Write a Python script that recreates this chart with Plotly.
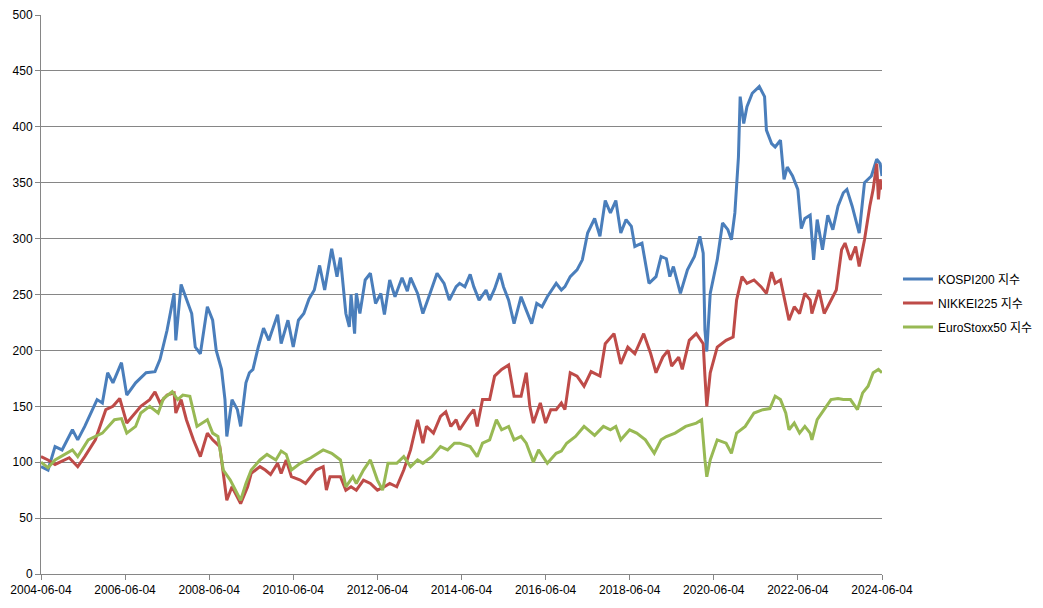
import plotly.graph_objects as go

# ---------------- data ----------------
kospi_dates = [
    "2004-06-04", "2004-08-04", "2004-10-04", "2004-12-04", "2005-03-04", "2005-04-19", "2005-06-19",
    "2005-10-04", "2005-11-19", "2006-01-04", "2006-02-19", "2006-05-04", "2006-06-19", "2006-09-04",
    "2006-12-04", "2007-02-19", "2007-04-04", "2007-06-04", "2007-08-04", "2007-08-19", "2007-10-04",
    "2007-11-19", "2008-01-04", "2008-02-04", "2008-03-19", "2008-05-19", "2008-07-04", "2008-08-04",
    "2008-09-19", "2008-10-19", "2008-11-04", "2008-12-19", "2009-02-04", "2009-03-04", "2009-04-19",
    "2009-05-19", "2009-06-19", "2009-08-04", "2009-09-19", "2009-11-04", "2010-01-19", "2010-02-19",
    "2010-04-19", "2010-06-04", "2010-07-19", "2010-09-04", "2010-10-19", "2010-12-04", "2011-01-19",
    "2011-03-04", "2011-05-04", "2011-06-19", "2011-07-19", "2011-09-04", "2011-10-04", "2011-10-19",
    "2011-11-19", "2011-12-04", "2012-01-04", "2012-02-19", "2012-04-04", "2012-05-19", "2012-07-04",
    "2012-08-04", "2012-09-19", "2012-11-04", "2013-01-04", "2013-02-19", "2013-03-19", "2013-05-19",
    "2013-07-04", "2013-09-04", "2013-11-04", "2014-01-04", "2014-02-19", "2014-04-19", "2014-05-19",
    "2014-07-04", "2014-08-19", "2014-09-19", "2014-11-04", "2015-01-04", "2015-02-04", "2015-03-19",
    "2015-05-04", "2015-06-04", "2015-07-19", "2015-09-04", "2015-11-04", "2015-12-19", "2016-02-04",
    "2016-03-19", "2016-05-04", "2016-06-19", "2016-09-04", "2016-10-19", "2016-11-19", "2017-01-04",
    "2017-03-04", "2017-04-19", "2017-06-04", "2017-08-04", "2017-09-19", "2017-11-04", "2017-12-19",
    "2018-02-04", "2018-03-19", "2018-05-04", "2018-06-19", "2018-07-19", "2018-09-19", "2018-11-19",
    "2019-01-19", "2019-03-04", "2019-04-19", "2019-05-19", "2019-06-19", "2019-08-19", "2019-10-19",
    "2019-12-19", "2020-02-04", "2020-03-04", "2020-03-19", "2020-04-04", "2020-05-04", "2020-07-04",
    "2020-08-19", "2020-10-04", "2020-11-04", "2020-12-04", "2021-01-04", "2021-01-19", "2021-02-19",
    "2021-03-19", "2021-05-04", "2021-07-04", "2021-08-19", "2021-09-04", "2021-10-19", "2021-11-19",
    "2022-01-04", "2022-02-04", "2022-03-04", "2022-04-19", "2022-06-04", "2022-07-04", "2022-08-04",
    "2022-09-19", "2022-10-19", "2022-11-19", "2023-01-04", "2023-02-19", "2023-04-04", "2023-05-19",
    "2023-07-04", "2023-08-04", "2023-09-19", "2023-11-19", "2024-01-04", "2024-03-04", "2024-04-19",
    "2024-05-19", "2024-06-04",
]
kospi_values = [
    96, 93, 114, 111, 129, 120, 132,
    156, 153, 180, 171, 189, 160, 171,
    180, 181, 192, 218, 251, 209, 259,
    245, 233, 203, 197, 239, 227, 200,
    183, 156, 123, 156, 147, 132, 171,
    180, 183, 203, 220, 209, 232, 206,
    227, 203, 227, 233, 246, 254, 276,
    254, 291, 266, 283, 233, 221, 250,
    215, 251, 233, 263, 269, 242, 251,
    232, 263, 248, 265, 253, 265, 251,
    233, 251, 269, 260, 245, 257, 260,
    257, 268, 257, 245, 254, 245, 255,
    269, 257, 245, 224, 248, 236, 224,
    242, 239, 248, 260, 254, 257, 266,
    272, 281, 305, 318, 302, 334, 323,
    334, 305, 317, 311, 293, 296, 260,
    266, 284, 282, 266, 275, 251, 272,
    284, 302, 287, 218, 199, 251, 281,
    314, 308, 299, 323, 373, 427, 403,
    418, 430, 436, 427, 397, 385, 382,
    388, 353, 364, 356, 344, 309, 318,
    321, 281, 317, 290, 321, 308, 329,
    341, 344, 329, 305, 350, 356, 371,
    367, 356,
]

nikkei_dates = [
    "2004-06-04", "2004-08-04", "2004-10-04", "2005-02-04", "2005-04-19", "2005-06-19", "2005-09-19",
    "2005-12-19", "2006-02-19", "2006-04-19", "2006-06-19", "2006-09-04", "2006-10-19", "2007-01-04",
    "2007-02-19", "2007-04-04", "2007-06-04", "2007-08-04", "2007-08-19", "2007-10-04", "2007-11-19",
    "2008-01-19", "2008-03-19", "2008-05-19", "2008-07-04", "2008-09-04", "2008-11-04", "2008-12-19",
    "2009-03-04", "2009-05-04", "2009-06-04", "2009-08-19", "2009-10-04", "2009-11-19", "2010-01-19",
    "2010-02-19", "2010-04-04", "2010-05-19", "2010-08-04", "2010-09-19", "2010-12-19", "2011-02-19",
    "2011-03-19", "2011-04-19", "2011-07-19", "2011-09-04", "2011-10-19", "2011-12-04", "2012-02-04",
    "2012-04-04", "2012-06-04", "2012-08-04", "2012-09-19", "2012-11-19", "2013-01-19", "2013-03-19",
    "2013-05-19", "2013-07-04", "2013-08-04", "2013-10-04", "2013-12-04", "2014-01-19", "2014-03-04",
    "2014-04-19", "2014-05-19", "2014-08-04", "2014-09-19", "2014-10-19", "2014-12-04", "2015-02-04",
    "2015-03-19", "2015-05-19", "2015-07-19", "2015-09-04", "2015-11-04", "2015-12-19", "2016-01-19",
    "2016-02-19", "2016-04-19", "2016-06-04", "2016-07-19", "2016-09-04", "2016-10-19", "2016-11-19",
    "2017-01-04", "2017-03-04", "2017-05-04", "2017-07-04", "2017-09-19", "2017-11-04", "2018-01-19",
    "2018-03-19", "2018-05-19", "2018-07-19", "2018-10-04", "2018-12-04", "2019-01-19", "2019-03-19",
    "2019-05-04", "2019-06-04", "2019-08-04", "2019-09-04", "2019-11-04", "2020-01-04", "2020-03-04",
    "2020-03-19", "2020-04-04", "2020-05-04", "2020-07-04", "2020-09-19", "2020-11-19", "2020-12-19",
    "2021-02-04", "2021-03-19", "2021-05-19", "2021-07-19", "2021-09-04", "2021-10-19", "2021-11-19",
    "2022-01-04", "2022-02-19", "2022-03-19", "2022-05-04", "2022-06-19", "2022-08-04", "2022-09-19",
    "2022-10-04", "2022-12-04", "2023-01-19", "2023-03-19", "2023-05-04", "2023-06-19", "2023-07-19",
    "2023-09-04", "2023-10-19", "2023-11-19", "2024-01-04", "2024-02-19", "2024-03-19", "2024-04-19",
    "2024-05-04", "2024-05-19", "2024-06-04",
]
nikkei_values = [
    105, 102, 98, 104, 96, 105, 120,
    147, 150, 157, 135, 144, 150, 156,
    163, 153, 160, 162, 144, 156, 138,
    120, 105, 126, 120, 114, 66, 78,
    63, 78, 90, 96, 93, 89, 99,
    90, 102, 87, 84, 81, 93, 96,
    75, 87, 87, 75, 78, 75, 84,
    81, 75, 78, 81, 78, 93, 111,
    138, 117, 132, 126, 141, 145, 132,
    138, 129, 141, 147, 132, 156, 156,
    177, 183, 187, 159, 159, 180, 150,
    135, 153, 135, 147, 147, 153, 147,
    180, 177, 168, 181, 177, 206, 215,
    188, 203, 197, 215, 197, 180, 194,
    200, 186, 194, 183, 209, 215, 206,
    177, 150, 180, 203, 209, 212, 245,
    266, 260, 263, 257, 251, 270, 260,
    263, 242, 227, 239, 233, 251, 245,
    233, 254, 233, 245, 254, 290, 296,
    281, 293, 275, 299, 329, 344, 367,
    335, 353, 344,
]

euro_dates = [
    "2004-06-04", "2004-08-04", "2004-10-04", "2005-03-04", "2005-04-19", "2005-07-19", "2005-11-19",
    "2006-03-04", "2006-05-04", "2006-06-19", "2006-09-04", "2006-10-19", "2007-01-04", "2007-03-19",
    "2007-05-04", "2007-07-19", "2007-09-04", "2007-10-19", "2007-12-19", "2008-02-19", "2008-05-19",
    "2008-07-04", "2008-08-19", "2008-10-04", "2008-12-04", "2009-03-04", "2009-04-19", "2009-06-04",
    "2009-08-19", "2009-10-19", "2010-01-04", "2010-02-19", "2010-04-04", "2010-05-19", "2010-08-04",
    "2010-11-04", "2011-02-19", "2011-05-04", "2011-07-19", "2011-09-04", "2011-11-04", "2011-12-04",
    "2012-02-04", "2012-04-04", "2012-06-04", "2012-07-19", "2012-09-04", "2012-11-19", "2013-01-19",
    "2013-03-19", "2013-05-19", "2013-07-04", "2013-09-19", "2013-12-04", "2014-02-04", "2014-04-04",
    "2014-05-19", "2014-08-19", "2014-10-19", "2014-12-04", "2015-02-04", "2015-04-04", "2015-05-19",
    "2015-07-19", "2015-09-04", "2015-11-04", "2015-12-19", "2016-02-19", "2016-04-04", "2016-06-19",
    "2016-09-04", "2016-10-19", "2016-12-04", "2017-02-19", "2017-05-04", "2017-08-04", "2017-10-19",
    "2017-12-19", "2018-02-04", "2018-03-19", "2018-06-04", "2018-08-04", "2018-10-19", "2019-01-04",
    "2019-03-04", "2019-04-19", "2019-07-04", "2019-10-04", "2020-01-04", "2020-02-19", "2020-03-19",
    "2020-04-04", "2020-05-04", "2020-07-04", "2020-09-19", "2020-11-04", "2020-12-19", "2021-03-04",
    "2021-05-19", "2021-08-04", "2021-10-04", "2021-11-19", "2022-01-04", "2022-02-19", "2022-03-19",
    "2022-05-04", "2022-06-19", "2022-08-04", "2022-09-19", "2022-10-04", "2022-11-19", "2023-01-19",
    "2023-03-19", "2023-05-19", "2023-07-04", "2023-09-04", "2023-11-04", "2023-12-19", "2024-02-04",
    "2024-03-19", "2024-05-04", "2024-06-04",
]
euro_values = [
    100, 95, 102, 111, 105, 120, 126,
    138, 139, 126, 132, 144, 150, 144,
    157, 163, 156, 160, 159, 132, 138,
    126, 123, 93, 84, 66, 81, 93,
    102, 107, 102, 110, 107, 93, 99,
    104, 111, 108, 102, 78, 87, 81,
    93, 102, 84, 75, 99, 99, 105,
    96, 102, 99, 105, 114, 111, 117,
    117, 114, 105, 117, 120, 138, 129,
    132, 120, 123, 117, 100, 111, 99,
    108, 110, 117, 123, 132, 124, 132,
    129, 132, 120, 129, 126, 120, 108,
    120, 123, 126, 132, 135, 138, 102,
    87, 102, 120, 117, 108, 126, 132,
    144, 147, 148, 159, 156, 144, 129,
    135, 126, 132, 126, 120, 138, 147,
    156, 157, 156, 156, 147, 162, 168,
    180, 183, 180,
]

series_names = ["KOSPI200 지수", "NIKKEI225 지수", "EuroStoxx50 지수"]
series_colors = ["#4A7EBB", "#BE4B48", "#98B954"]

tick_dates = ["2004-06-04", "2006-06-04", "2008-06-04", "2010-06-04", "2012-06-04", "2014-06-04",
              "2016-06-04", "2018-06-04", "2020-06-04", "2022-06-04", "2024-06-04"]
y_ticks = list(range(0, 501, 50))

# ---------------- figure ----------------
fig = go.Figure()
for i, (name, xs, ys, col) in enumerate(zip(series_names,
                                            [kospi_dates, nikkei_dates, euro_dates],
                                            [kospi_values, nikkei_values, euro_values],
                                            series_colors)):
    fig.add_trace(go.Scatter(x=xs, y=ys, mode="lines", name=name, legendgroup=f"g{i}",
                             line=dict(color=col, width=3)))

font_family = "Liberation Sans, Noto Sans CJK KR, sans-serif"
fig.update_layout(
    width=1043, height=608,
    margin=dict(l=33, r=169, t=7, b=42),
    paper_bgcolor="white", plot_bgcolor="white",
    font=dict(family=font_family, size=12, color="#000000"),
    showlegend=True,
    legend=dict(x=1.019, y=0.485, xanchor="left", yanchor="middle",
                font=dict(family=font_family, size=12, color="#000000"),
                itemwidth=30, tracegroupgap=5, bgcolor="rgba(0,0,0,0)"),
)
fig.update_xaxes(
    type="date", range=[tick_dates[0], tick_dates[-1]],
    tickmode="array", tickvals=tick_dates, ticktext=tick_dates,
    showgrid=False, showline=True, linecolor="#868686", linewidth=1,
    ticks="outside", ticklen=5, tickcolor="#868686", zeroline=False,
    tickfont=dict(size=12), automargin=False,
)
fig.update_yaxes(
    range=[0, 500], tickmode="array", tickvals=y_ticks,
    showgrid=True, gridcolor="#868686", gridwidth=1,
    showline=True, linecolor="#868686", linewidth=1,
    ticks="outside", ticklen=5, tickcolor="#868686", zeroline=False,
    tickfont=dict(size=12), automargin=False,
)

fig.write_html("out.html")
